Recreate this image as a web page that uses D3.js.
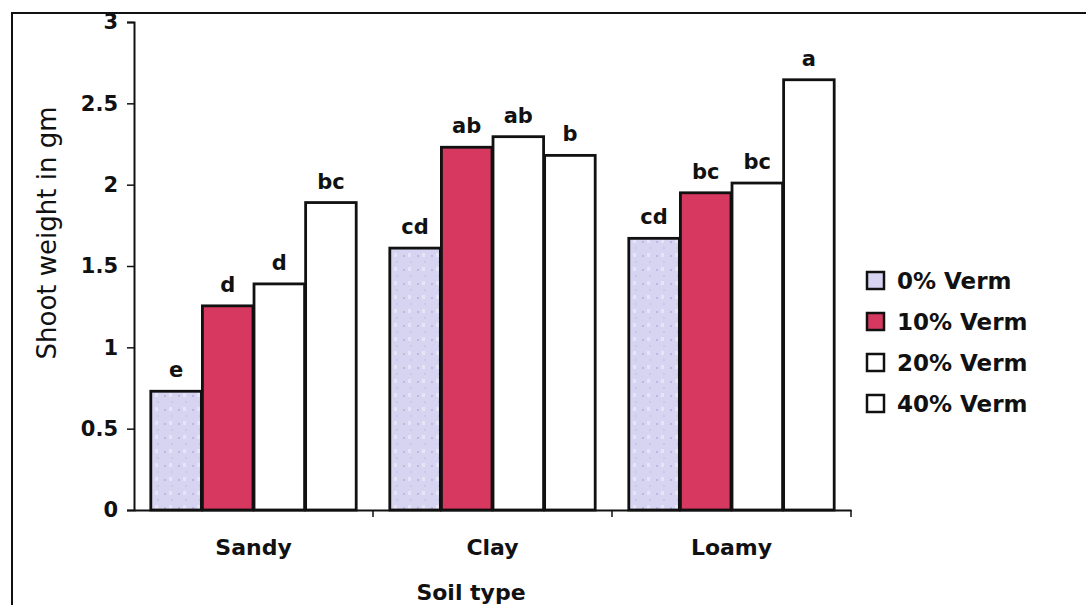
<!DOCTYPE html>
<html>
<head>
<meta charset="utf-8">
<script src="https://cdn.jsdelivr.net/npm/d3@7"></script>
<style>
  body { margin: 0; background: #fff; }
  text { font-family: "DejaVu Sans", sans-serif; fill: #111; }
</style>
</head>
<body>
<div id="chart"></div>
<script>
// data
var soils = ["Sandy", "Clay", "Loamy"];
var series = ["0% Verm", "10% Verm", "20% Verm", "40% Verm"];
var v0 = [0.73, 1.61, 1.67];
var v10 = [1.255, 2.23, 1.95];
var v20 = [1.39, 2.295, 2.01];
var v40 = [1.89, 2.18, 2.645];
var letters0 = ["e", "cd", "cd"];
var letters10 = ["d", "ab", "bc"];
var letters20 = ["d", "ab", "bc"];
var letters40 = ["bc", "b", "a"];
var yTicks = [0, 0.5, 1, 1.5, 2, 2.5, 3];
var colors = ["#d6d4f1", "#d6385f", "#ffffff", "#ffffff"];

var W = 1086, H = 605;
var plot = {x0: 134, x1: 851, y0: 510, y1: 22};
var FONT = "'DejaVu Sans', sans-serif";

var svg = d3.select("#chart").append("svg")
  .attr("width", W)
  .attr("height", H);

// speckle texture for the 0% bars
var defs = svg.append("defs");
var pat = defs.append("pattern")
  .attr("id", "speck")
  .attr("patternUnits", "userSpaceOnUse")
  .attr("width", 14).attr("height", 14);
pat.append("rect").attr("width", 14).attr("height", 14).attr("fill", colors[0]);
pat.append("circle").attr("cx", 3).attr("cy", 4).attr("r", 0.8).attr("fill", "#9a98cc");
pat.append("circle").attr("cx", 10).attr("cy", 10).attr("r", 0.7).attr("fill", "#b3b1e0");
pat.append("rect").attr("x", 7).attr("y", 1).attr("width", 3).attr("height", 4).attr("fill", "#e6e4f7");

// outer frame
svg.append("rect")
  .attr("x", 12).attr("y", 13)
  .attr("width", W + 20).attr("height", H + 20)
  .attr("fill", "none")
  .attr("stroke", "#111")
  .attr("stroke-width", 2);

var rows = soils.map(function(s, i) {
  return {
    soil: s,
    vals: [v0[i], v10[i], v20[i], v40[i]],
    labs: [letters0[i], letters10[i], letters20[i], letters40[i]]
  };
});

var x0 = d3.scaleBand().domain(soils).range([plot.x0, plot.x1]).padding(0);
var bw = x0.bandwidth();
var x1 = d3.scaleBand().domain(d3.range(series.length)).range([bw * 0.066, bw * 0.934]).padding(0.02);
var y = d3.scaleLinear().domain([0, 3]).range([plot.y0, plot.y1]);

var groups = svg.append("g").selectAll("g.grp")
  .data(rows)
  .enter().append("g")
  .attr("class", "grp")
  .attr("transform", function(d) { return "translate(" + x0(d.soil) + ",0)"; });

function cells(d) {
  return d.vals.map(function(v, j) { return {v: v, j: j, lab: d.labs[j]}; });
}

groups.selectAll("rect")
  .data(cells)
  .enter().append("rect")
  .attr("x", function(d) { return x1(d.j); })
  .attr("y", function(d) { return y(d.v); })
  .attr("width", x1.bandwidth())
  .attr("height", function(d) { return y(0) - y(d.v); })
  .attr("fill", function(d) { return d.j == 0 ? "url(#speck)" : colors[d.j]; })
  .attr("stroke", "#111")
  .attr("stroke-width", 2.8);

groups.selectAll("text.lab")
  .data(cells)
  .enter().append("text")
  .attr("class", "lab")
  .attr("x", function(d) { return x1(d.j) + x1.bandwidth() / 2; })
  .attr("y", function(d) { return y(d.v) - 14; })
  .attr("text-anchor", "middle")
  .attr("font-size", "21px")
  .attr("font-weight", "bold")
  .text(function(d) { return d.lab; });

// y axis
var yAxis = d3.axisLeft(y).tickValues(yTicks).tickSize(7).tickPadding(9)
  .tickFormat(function(d) { return d; });
var ya = svg.append("g")
  .attr("transform", "translate(" + plot.x0 + ",0)")
  .call(yAxis);
ya.select(".domain").attr("stroke", "#111").attr("stroke-width", 2);
ya.selectAll(".tick line").attr("stroke", "#111").attr("stroke-width", 1.5);
ya.selectAll(".tick text")
  .attr("font-size", "21px").attr("font-weight", "bold")
  .attr("font-family", FONT).attr("fill", "#111");

// x axis
var xAxis = d3.axisBottom(x0).tickSize(0);
var xa = svg.append("g")
  .attr("transform", "translate(0," + plot.y0 + ")")
  .call(xAxis);
xa.select(".domain").attr("stroke", "#111").attr("stroke-width", 2);
xa.selectAll(".tick text")
  .attr("y", 45).attr("dy", 0)
  .attr("font-size", "22px").attr("font-weight", "bold")
  .attr("font-family", FONT).attr("fill", "#111");
// category separators
xa.selectAll("line.sep")
  .data(soils)
  .enter().append("line")
  .attr("class", "sep")
  .attr("x1", function(d) { return x0(d) + bw; })
  .attr("x2", function(d) { return x0(d) + bw; })
  .attr("y1", 0).attr("y2", 7)
  .attr("stroke", "#111").attr("stroke-width", 1.5);

// axis titles
svg.append("text")
  .attr("transform", "translate(56,233) rotate(-90)")
  .attr("text-anchor", "middle")
  .attr("font-family", "'Liberation Sans', Arial, sans-serif")
  .attr("font-size", "26px")
  .text("Shoot weight in gm");

svg.append("text")
  .attr("x", 471).attr("y", 600)
  .attr("text-anchor", "middle")
  .attr("font-size", "22px")
  .attr("font-weight", "bold")
  .text("Soil type");

// legend
var legend = svg.append("g")
  .attr("class", "legend")
  .attr("transform", "translate(867,280)");
legend.selectAll("rect")
  .data(series)
  .enter().append("rect")
  .attr("x", 0)
  .attr("y", function(d, i) { return i * 41 - 8; })
  .attr("width", 17).attr("height", 17)
  .attr("fill", function(d, i) { return colors[i]; })
  .attr("stroke", "#111").attr("stroke-width", 2.5);
legend.selectAll("text")
  .data(series)
  .enter().append("text")
  .attr("x", 30)
  .attr("y", function(d, i) { return i * 41 + 9; })
  .attr("font-size", "23px")
  .attr("font-weight", "bold")
  .text(function(d) { return d; });
</script>
</body>
</html>
